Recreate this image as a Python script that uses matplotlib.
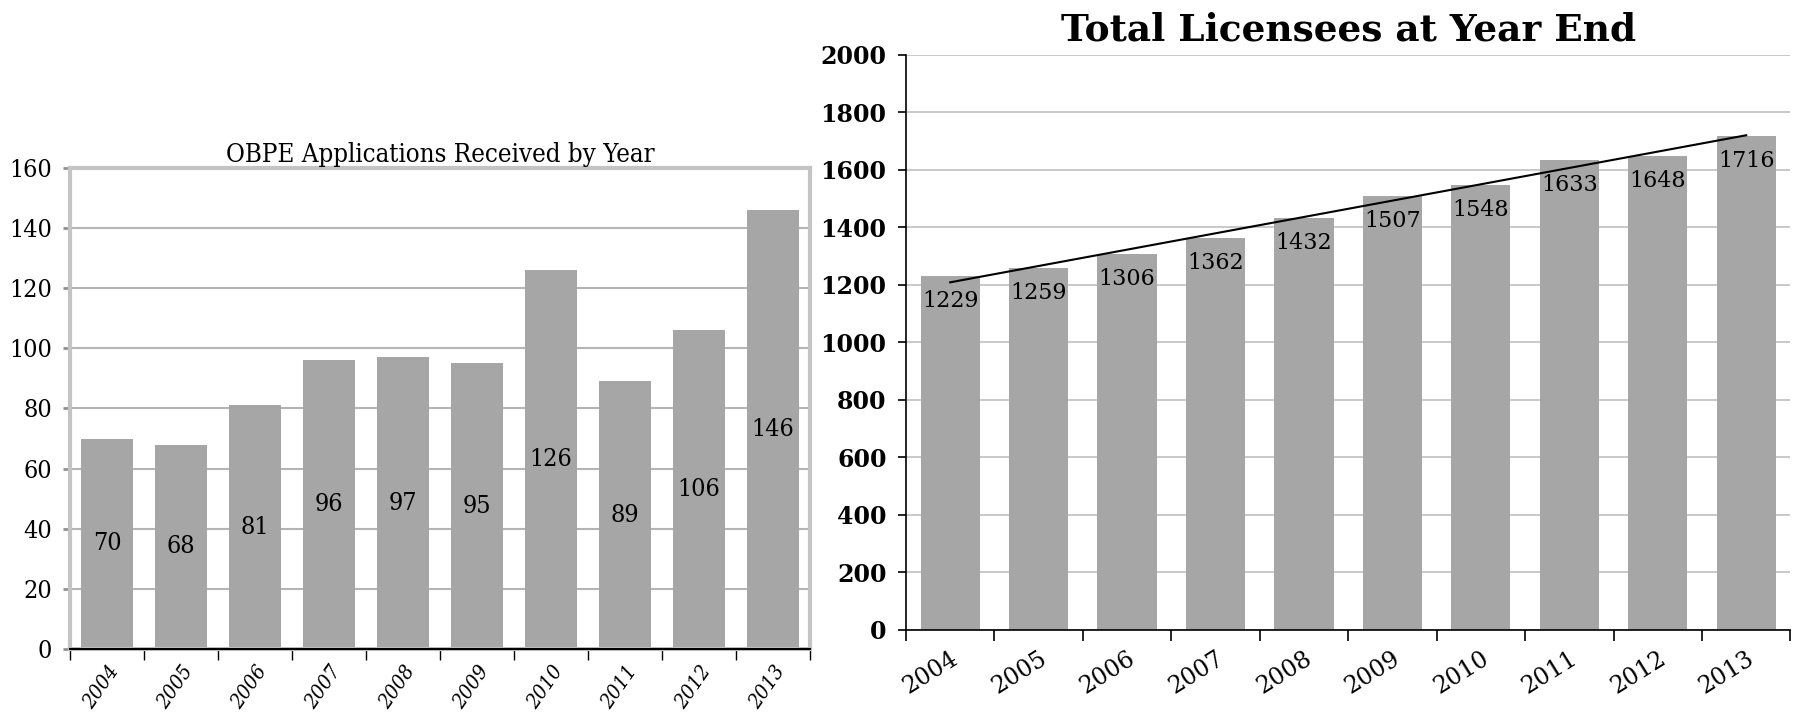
import matplotlib.pyplot as plt
import numpy as np

plt.rcParams['font.family'] = ['Liberation Serif', 'DejaVu Serif']

years = ['2004', '2005', '2006', '2007', '2008', '2009', '2010', '2011', '2012', '2013']
applications = [70, 68, 81, 96, 97, 95, 126, 89, 106, 146]
licensees = [1229, 1259, 1306, 1362, 1432, 1507, 1548, 1633, 1648, 1716]

bar_col = '#a6a6a6'
x = np.arange(len(years))
cond = dict(family='DejaVu Serif', stretch='condensed')
wide = dict(family='DejaVu Serif')

fig = plt.figure(figsize=(17.94, 7.19), dpi=100)

# linkes Diagramm
ax1 = fig.add_axes([0.039, 0.097, 0.4125, 0.670])
ax1.bar(x, applications, width=0.71, color=bar_col, zorder=2)
for xi, v in zip(x, applications):
    ax1.text(xi, v / 2, str(v), ha='center', va='center', fontsize=18, zorder=3, **cond)
ax1.set_xlim(-0.5, 9.5)
ax1.set_ylim(0, 160)
ax1.set_yticks(range(0, 161, 20))
ax1.yaxis.grid(True, color='#b4b4b4', lw=1.5, zorder=0)
for s in ax1.spines.values():
    s.set_color('#c4c4c4')
    s.set_linewidth(3)
ax1.axhline(0, color='black', lw=1.5, zorder=4, clip_on=False)
ax1.set_xticks(x)
ax1.set_xticklabels(years, rotation=55, ha='right', va='top', rotation_mode='anchor',
                    fontsize=15, style='italic', **cond)
ax1.set_xticks(np.arange(-0.5, 10, 1), minor=True)
ax1.tick_params(axis='x', which='major', length=0, pad=9)
ax1.tick_params(axis='x', which='minor', length=8, color='black', width=1)
ax1.tick_params(axis='y', length=5, color='#909090', width=2, pad=8)
for lab in ax1.get_yticklabels():
    lab.set_fontproperties(dict(size=18, **cond))
ax1.set_title('OBPE Applications Received by Year', fontsize=18.5, pad=4, **cond)

# rechtes Diagramm
ax2 = fig.add_axes([0.505, 0.124, 0.493, 0.80])
ax2.bar(x, licensees, width=0.67, color=bar_col, zorder=2)
for xi, v in zip(x, licensees):
    ax2.annotate(str(v), (xi, v), xytext=(0, -10), textcoords='offset points',
                 ha='center', va='top', fontsize=16, zorder=3, **wide)
m, n = np.polyfit(x, licensees, 1)
ax2.plot(x, m * x + n, color='black', lw=1.5, zorder=4)
ax2.set_xlim(-0.5, 9.5)
ax2.set_ylim(0, 2000)
ax2.set_yticks(range(0, 2001, 200))
ax2.yaxis.grid(True, color='#c0c0c0', lw=1.2, zorder=0)
ax2.spines['top'].set_visible(False)
ax2.spines['right'].set_visible(False)
ax2.spines['left'].set_linewidth(1.2)
ax2.spines['bottom'].set_linewidth(1.2)
ax2.set_xticks(x)
ax2.set_xticklabels(years, rotation=32, ha='right', va='top', rotation_mode='anchor',
                    fontsize=17, **wide)
ax2.set_xticks(np.arange(-0.5, 10, 1), minor=True)
ax2.tick_params(axis='x', which='major', length=0, pad=12)
ax2.tick_params(axis='x', which='minor', length=8, width=1.2)
ax2.tick_params(axis='y', length=6, width=1.2, pad=8)
for lab in ax2.get_yticklabels():
    lab.set_fontproperties(dict(size=17, weight='bold', **wide))
ax2.set_title('Total Licensees at Year End', fontsize=27, fontweight='bold', pad=10, **wide)

fig.savefig('out.png', dpi=100)
